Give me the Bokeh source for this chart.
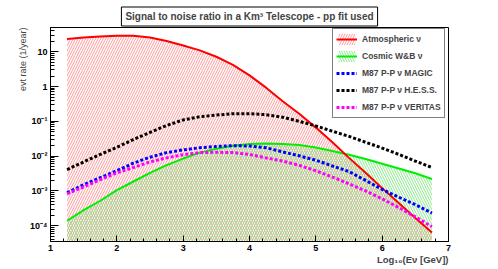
from bokeh.plotting import figure
from bokeh.models import FixedTicker, Legend, LegendItem, Title, Range1d
from bokeh.embed import file_html
from bokeh.resources import INLINE

# log10(E_nu / GeV)
log_e = [1.25, 1.5, 1.75, 2.0, 2.25, 2.5, 2.75, 3.0, 3.25, 3.5, 3.75, 4.0,
         4.25, 4.5, 4.75, 5.0, 5.25, 5.5, 5.75, 6.0, 6.25, 6.5, 6.75]

# event rates (1/year)
atmospheric = [23.4, 25.7, 27.5, 28.8, 28.8, 25.7, 20.4, 15.1, 11.0, 7.2, 4.2, 2.1,
               0.93, 0.38, 0.166, 0.066, 0.025, 0.0089, 0.0033, 0.0012, 4.5e-4, 1.66e-4, 6.3e-5]
cosmic_wb = [1.38e-4, 2.8e-4, 5.2e-4, 1.05e-3, 1.86e-3, 3.3e-3, 5.5e-3, 8.5e-3, 0.0126, 0.0162,
             0.020, 0.0224, 0.0229, 0.0224, 0.0209, 0.0178, 0.0141, 0.011, 0.0083, 0.006,
             0.0044, 0.0032, 0.0022]
m87_magic = [8.9e-4, 1.5e-3, 2.4e-3, 3.8e-3, 6.3e-3, 9.3e-3, 0.0126, 0.0151, 0.0174, 0.019,
             0.020, 0.0195, 0.0174, 0.0132, 0.0102, 0.0076, 0.0052, 0.0036, 0.0020, 0.0011,
             6.6e-4, 4.0e-4, 2.3e-4]
m87_hess = [0.0041, 0.0068, 0.0112, 0.018, 0.030, 0.048, 0.076, 0.11, 0.135, 0.151, 0.166,
            0.166, 0.155, 0.132, 0.10, 0.074, 0.052, 0.037, 0.025, 0.017, 0.0112, 0.0072, 0.0047]
m87_veritas = [8.3e-4, 1.3e-3, 2.1e-3, 3.3e-3, 4.7e-3, 6.8e-3, 8.9e-3, 0.011, 0.0126, 0.0129,
               0.0126, 0.0112, 0.0089, 0.0072, 0.0054, 0.0038, 0.0025, 0.0016, 0.001, 5.9e-4,
               3.3e-4, 1.8e-4, 9.3e-5]

x_ticks = [1, 2, 3, 4, 5, 6, 7]
y_ticks = [1e-4, 1e-3, 1e-2, 1e-1, 1, 10]
y_tick_labels = {1e-4: "10⁻⁴", 1e-3: "10⁻³", 1e-2: "10⁻²", 1e-1: "10⁻¹", 1: "1", 10: "10"}

X_MIN, X_MAX = 1, 7
Y_MIN, Y_MAX = 3.5e-5, 50

FONT = "Liberation Sans"

p = figure(width=498, height=269, output_backend="svg", toolbar_location=None,
           y_axis_type="log", x_range=Range1d(X_MIN, X_MAX), y_range=Range1d(Y_MIN, Y_MAX),
           min_border_left=50, min_border_right=50, min_border_top=27, min_border_bottom=28)
p.title.visible = False
p.xgrid.visible = False
p.ygrid.visible = False
p.outline_line_color = "black"
p.outline_line_width = 1
p.background_fill_color = "white"
p.border_fill_color = "white"

base = [Y_MIN] * len(log_e)

atm_area = p.varea(x=log_e, y1=base, y2=atmospheric, fill_alpha=0,
                   hatch_pattern="/", hatch_color="#ff8080", hatch_scale=5, hatch_weight=1,
                   hatch_alpha=0.8)
cos_area = p.varea(x=log_e, y1=base, y2=cosmic_wb, fill_alpha=0,
                   hatch_pattern="\\", hatch_color="#70e070", hatch_scale=5, hatch_weight=1,
                   hatch_alpha=0.8)
cos_line = p.line(log_e, cosmic_wb, line_color="#00ee00", line_width=2)
atm_line = p.line(log_e, atmospheric, line_color="#ff0000", line_width=2)
hess_line = p.line(log_e, m87_hess, line_color="black", line_width=3, line_dash="3 2")
magic_line = p.line(log_e, m87_magic, line_color="blue", line_width=3, line_dash="3 2")
ver_line = p.line(log_e, m87_veritas, line_color="magenta", line_width=3, line_dash="3 2")

legend = Legend(items=[
    LegendItem(label="Atmospheric ν", renderers=[atm_area, atm_line]),
    LegendItem(label="Cosmic W&B ν", renderers=[cos_area, cos_line]),
    LegendItem(label="M87 P-P ν MAGIC", renderers=[magic_line]),
    LegendItem(label="M87 P-P ν H.E.S.S.", renderers=[hess_line]),
    LegendItem(label="M87 P-P ν VERITAS", renderers=[ver_line]),
], location=(282, 123))
legend.border_line_color = "black"
legend.border_line_width = 1
legend.label_text_font = FONT
legend.label_text_font_style = "bold"
legend.label_text_font_size = "8.5px"
legend.glyph_width = 21
legend.glyph_height = 14
legend.label_height = 14
legend.spacing = 3
legend.padding = 3
legend.margin = 0
legend.label_standoff = 5
p.add_layout(legend)

for ax in (p.xaxis[0], p.yaxis[0]):
    ax.axis_line_color = "black"
    ax.major_tick_line_color = "black"
    ax.minor_tick_line_color = "black"
    ax.major_tick_out = 0
    ax.minor_tick_out = 0
    ax.major_label_text_font = FONT
    ax.major_label_text_font_style = "bold"
    ax.major_label_text_font_size = "9px"
    ax.major_label_text_color = "black"
    ax.major_label_standoff = 3

p.xaxis.ticker = FixedTicker(ticks=x_ticks,
                             minor_ticks=[round(1 + 0.2 * i, 2) for i in range(31)])
p.xaxis.major_tick_in = 6
p.xaxis.minor_tick_in = 3

minor_y = []
for d in [1e-5, 1e-4, 1e-3, 1e-2, 1e-1, 1, 10]:
    for k in range(2, 10):
        minor_y.append(k * d)
p.yaxis.ticker = FixedTicker(ticks=y_ticks, minor_ticks=minor_y)
p.yaxis.major_label_overrides = y_tick_labels
p.yaxis.major_tick_in = 8
p.yaxis.minor_tick_in = 4

p.add_layout(Title(text="evt rate (1/year)", align="right", text_font=FONT,
                   text_font_style="normal", text_font_size="9px", standoff=0), "left")
p.add_layout(Title(text="Log₁₀(Eν [GeV])", align="right", text_font=FONT,
                   text_font_style="bold", text_font_size="9.5px", standoff=-4), "below")
p.add_layout(Title(text="Signal to noise ratio in a Km³ Telescope - pp fit used",
                   align="center", text_font=FONT, text_font_style="bold",
                   text_font_size="10px", border_line_color="black",
                   background_fill_color="white", padding=4, standoff=3), "above")

open("out.html", "w").write(file_html(p, INLINE))
